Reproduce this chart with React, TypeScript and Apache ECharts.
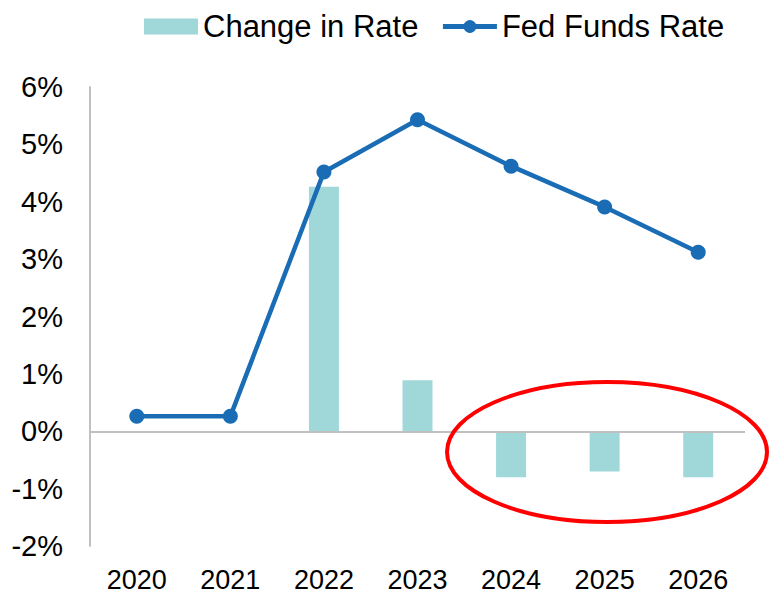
import React, { useEffect, useRef } from "react";
import * as echarts from "echarts";

const categories = ["2020", "2021", "2022", "2023", "2024", "2025", "2026"];
const changeInRate: (number | null)[] = [null, null, 4.26, 0.89, -0.8, -0.7, -0.8];
const fedFundsRate = [0.26, 0.26, 4.52, 5.43, 4.62, 3.91, 3.12];
const yMin = -2;
const yMax = 6;
const yInterval = 1;

const FONT = "'Liberation Sans', Arial, sans-serif";

export default function App() {
  const ref = useRef<HTMLDivElement>(null);
  useEffect(() => {
    document.body.style.margin = "0";
    if (!ref.current) return;
    const chart = echarts.init(ref.current, null, { renderer: "svg" });
    chart.setOption({
      animation: false,
      textStyle: { fontFamily: FONT },
      legend: {
        top: 6,
        left: 139,
        itemWidth: 54,
        itemHeight: 16,
        itemGap: 22,
        lineStyle: { width: 5 },
        textStyle: { fontSize: 31, color: "#000", fontFamily: FONT },
        data: [
          { name: "Change in Rate", icon: "rect" },
          { name: "Fed Funds Rate" },
        ],
      },
      grid: { left: 90, right: 24, top: 87, bottom: 49, containLabel: false },
      xAxis: {
        type: "category",
        data: categories,
        axisLine: { show: false },
        axisTick: { show: false },
        axisLabel: { fontSize: 27, color: "#000", margin: 20, fontFamily: FONT },
      },
      yAxis: {
        type: "value",
        min: yMin,
        max: yMax,
        interval: yInterval,
        axisLine: { show: true, lineStyle: { color: "#c0c0c0", width: 2 } },
        axisTick: { show: false },
        splitLine: { show: false },
        axisLabel: {
          fontSize: 29,
          color: "#000",
          margin: 27,
          fontFamily: FONT,
          formatter: (v: number) => `${v}%`,
        },
      },
      series: [
        {
          name: "Change in Rate",
          type: "bar",
          data: changeInRate,
          barWidth: 30,
          itemStyle: { color: "#a0d8da" },
          markLine: {
            silent: true,
            symbol: "none",
            label: { show: false },
            lineStyle: { color: "#c0c0c0", width: 2, type: "solid" },
            data: [{ yAxis: 0 }],
          },
        },
        {
          name: "Fed Funds Rate",
          type: "line",
          data: fedFundsRate,
          symbol: "circle",
          symbolSize: 15,
          itemStyle: { color: "#1a6db5" },
          lineStyle: { color: "#1a6db5", width: 4.5 },
        },
      ],
      graphic: [
        {
          type: "ellipse",
          shape: { cx: 607, cy: 452, rx: 160, ry: 70 },
          style: { fill: "none", stroke: "#ff0000", lineWidth: 4 },
          silent: true,
          z: 100,
        },
      ],
    });
    return () => chart.dispose();
  }, []);
  return <div ref={ref} style={{ width: 769, height: 595 }} />;
}
